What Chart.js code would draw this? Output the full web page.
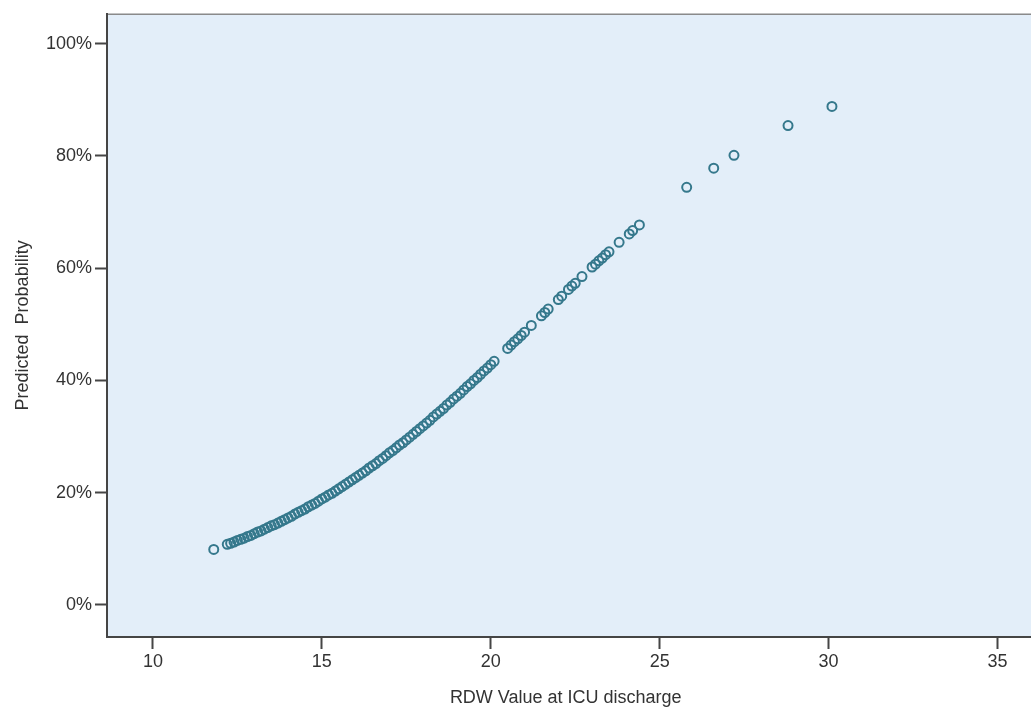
<!DOCTYPE html>
<html>
<head>
<meta charset="utf-8">
<title>Predicted Probability by RDW</title>
<script src="https://cdn.jsdelivr.net/npm/chart.js@4.4.1/dist/chart.umd.min.js"></script>
<style>
    html, body { margin: 0; padding: 0; background: #ffffff; overflow: hidden; }
    #wrap { width: 1031px; height: 715px; position: relative; }
</style>
</head>
<body>
<div id="wrap"><canvas id="rdwChart"></canvas></div>
<script>
    // RDW at ICU discharge (x) and model predicted probability in % (y)
    var rdw = [
        11.8,
        12.2, 12.3, 12.4, 12.5, 12.6, 12.7, 12.8, 12.9, 13.0, 13.1,
        13.2, 13.3, 13.4, 13.5, 13.6, 13.7, 13.8, 13.9, 14.0, 14.1,
        14.2, 14.3, 14.4, 14.5, 14.6, 14.7, 14.8, 14.9, 15.0, 15.1,
        15.2, 15.3, 15.4, 15.5, 15.6, 15.7, 15.8, 15.9, 16.0, 16.1,
        16.2, 16.3, 16.4, 16.5, 16.6, 16.7, 16.8, 16.9, 17.0, 17.1,
        17.2, 17.3, 17.4, 17.5, 17.6, 17.7, 17.8, 17.9, 18.0, 18.1,
        18.2, 18.3, 18.4, 18.5, 18.6, 18.7, 18.8, 18.9, 19.0, 19.1,
        19.2, 19.3, 19.4, 19.5, 19.6, 19.7, 19.8, 19.9, 20.0, 20.1,
        20.5, 20.6, 20.7, 20.8, 20.9, 21.0, 21.2, 21.5, 21.6, 21.7,
        22.0, 22.1, 22.3, 22.4, 22.5, 22.7,
        23.0, 23.1, 23.2, 23.3, 23.4, 23.5,
        23.8, 24.1, 24.2, 24.4,
        25.8, 26.6, 27.2, 28.8, 30.1
    ];
    var predicted = [
        9.9,
        10.8, 11.0, 11.2, 11.5, 11.7, 11.9, 12.2, 12.4, 12.7, 13.0,
        13.2, 13.5, 13.8, 14.1, 14.3, 14.6, 14.9, 15.2, 15.5, 15.8,
        16.2, 16.5, 16.8, 17.1, 17.5, 17.8, 18.1, 18.5, 18.9, 19.2,
        19.6, 19.9, 20.3, 20.7, 21.1, 21.5, 21.9, 22.3, 22.7, 23.1,
        23.5, 23.9, 24.4, 24.8, 25.2, 25.7, 26.1, 26.6, 27.1, 27.5,
        28.0, 28.5, 28.9, 29.4, 29.9, 30.4, 30.9, 31.4, 31.9, 32.4,
        32.9, 33.5, 34.0, 34.5, 35.0, 35.6, 36.1, 36.7, 37.2, 37.7,
        38.3, 38.9, 39.4, 40.0, 40.5, 41.1, 41.7, 42.2, 42.8, 43.4,
        45.7, 46.3, 46.9, 47.4, 48.0, 48.6, 49.8, 51.5, 52.1, 52.7,
        54.4, 55.0, 56.2, 56.8, 57.3, 58.5,
        60.2, 60.7, 61.3, 61.8, 62.4, 62.9,
        64.6, 66.1, 66.7, 67.7,
        74.4, 77.8, 80.1, 85.4, 88.8
    ];
    var xTicks = [10, 15, 20, 25, 30, 35];
    var yTicks = [0, 20, 40, 60, 80, 100];

    var points = rdw.map(function (v, i) {
        return { x: v, y: predicted[i] };
    });

    var axisColor = '#454545';
    var textColor = '#333333';
    var fontFamily = '"Liberation Sans", Arial, sans-serif';

    // Pale blue plot background and the top frame line, both run on to the
    // canvas edge; the bottom axis line is carried over the same strip
    var plotBackground = {
        id: 'plotBackground',
        beforeDraw: function (chart) {
            var a = chart.chartArea;
            var ctx = chart.ctx;
            ctx.save();
            ctx.fillStyle = '#e3eef9';
            ctx.fillRect(a.left, a.top, chart.width - a.left, a.bottom - a.top);
            ctx.strokeStyle = '#8a8a8a';
            ctx.lineWidth = 1.5;
            ctx.beginPath();
            ctx.moveTo(a.left, a.top + 0.5);
            ctx.lineTo(chart.width, a.top + 0.5);
            ctx.stroke();
            ctx.restore();
        },
        afterDraw: function (chart) {
            var a = chart.chartArea;
            var ctx = chart.ctx;
            ctx.save();
            ctx.strokeStyle = axisColor;
            ctx.lineWidth = 2;
            ctx.beginPath();
            ctx.moveTo(a.right - 1, a.bottom);
            ctx.lineTo(chart.width, a.bottom);
            ctx.stroke();
            ctx.restore();
        }
    };

    var ctx = document.getElementById('rdwChart').getContext('2d');
    var rdwChart = new Chart(ctx, {
        type: 'scatter',
        data: {
            datasets: [{
                data: points,
                showLine: false,
                pointStyle: 'circle',
                pointRadius: 4.5,
                pointBorderWidth: 2,
                pointBackgroundColor: 'rgba(0,0,0,0)',
                pointBorderColor: '#35788c'
            }]
        },
        options: {
            responsive: true,
            maintainAspectRatio: false,
            animation: false,
            events: [],
            layout: { padding: { top: 13, right: 0, bottom: 0, left: 0 } },
            plugins: {
                legend: { display: false },
                tooltip: { enabled: false }
            },
            scales: {
                x: {
                    type: 'linear',
                    min: 8.64,
                    max: 35.80,
                    afterBuildTicks: function (scale) {
                        scale.ticks = xTicks.map(function (v) { return { value: v }; });
                    },
                    afterFit: function (scale) { scale.height = 78; },
                    border: { display: true, color: axisColor, width: 2 },
                    grid: {
                        drawOnChartArea: false,
                        drawTicks: true,
                        tickLength: 12,
                        tickWidth: 2,
                        tickColor: axisColor
                    },
                    ticks: {
                        color: textColor,
                        padding: 2,
                        maxRotation: 0,
                        font: { family: fontFamily, size: 18 }
                    },
                    title: {
                        display: true,
                        text: 'RDW Value at ICU discharge',
                        color: textColor,
                        padding: { top: 0, bottom: 6 },
                        font: { family: fontFamily, size: 18 }
                    }
                },
                y: {
                    type: 'linear',
                    min: -5.7,
                    max: 105.3,
                    afterBuildTicks: function (scale) {
                        scale.ticks = yTicks.map(function (v) { return { value: v }; });
                    },
                    afterFit: function (scale) { scale.width = 107; },
                    border: { display: true, color: axisColor, width: 2 },
                    grid: {
                        drawOnChartArea: false,
                        drawTicks: true,
                        tickLength: 12,
                        tickWidth: 2,
                        tickColor: axisColor
                    },
                    ticks: {
                        color: textColor,
                        padding: 3,
                        font: { family: fontFamily, size: 18 },
                        callback: function (v) { return v + '%'; }
                    },
                    title: {
                        display: true,
                        text: 'Predicted  Probability',
                        color: textColor,
                        padding: { top: 12, bottom: 0 },
                        font: { family: fontFamily, size: 18 }
                    }
                }
            }
        },
        plugins: [plotBackground]
    });
</script>
</body>
</html>
